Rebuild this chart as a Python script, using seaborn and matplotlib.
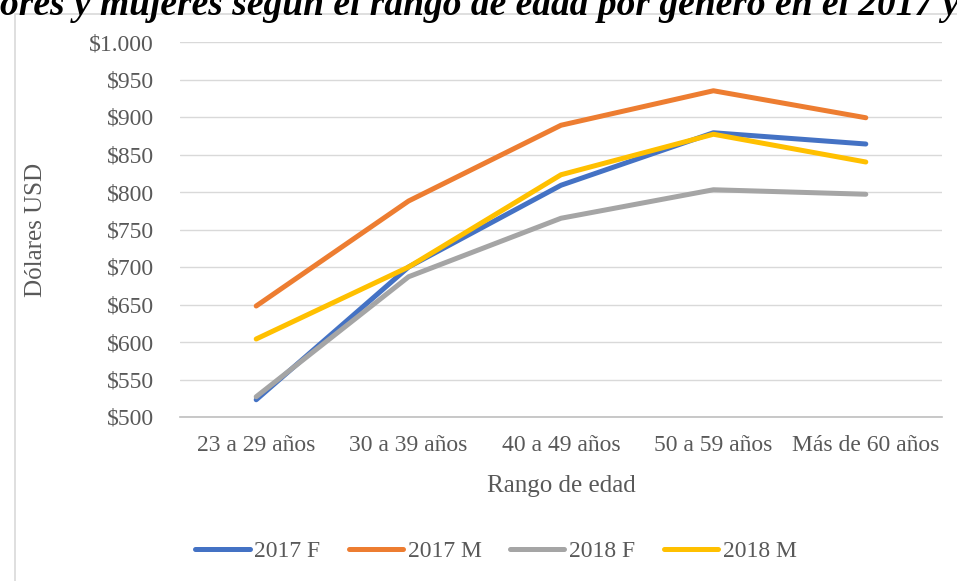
import matplotlib.pyplot as plt
import matplotlib.ticker as mticker
from matplotlib.patches import Rectangle
import pandas as pd
import seaborn as sns

# Data
rangos = ['23 a 29 años', '30 a 39 años', '40 a 49 años', '50 a 59 años', 'Más de 60 años']
f_2017 = [523, 700, 809, 879, 864]
m_2017 = [648, 788, 889, 935, 899]
f_2018 = [527, 687, 765, 803, 797]
m_2018 = [604, 700, 823, 877, 840]
series = ['2017 F', '2017 M', '2018 F', '2018 M']
colores = ['#4472C4', '#ED7D31', '#A5A5A5', '#FFC000']

df = pd.DataFrame({'Rango': rangos, '2017 F': f_2017, '2017 M': m_2017,
                   '2018 F': f_2018, '2018 M': m_2018})
df_long = df.melt(id_vars='Rango', var_name='Serie', value_name='USD')
df_long['x'] = df_long['Rango'].map({r: i for i, r in enumerate(rangos)})

sns.set_style('white')
plt.rcParams['font.family'] = ['Liberation Serif', 'DejaVu Serif']

fig = plt.figure(figsize=(9.57, 5.81), dpi=100)
W, H = 957, 581
ax = fig.add_axes([180 / W, 1 - 417 / H, (942 - 180) / W, (417 - 42) / H])

sns.lineplot(data=df_long, x='x', y='USD', hue='Serie', hue_order=series,
             palette=colores, linewidth=3.6, ax=ax, legend=False,
             solid_capstyle='round', solid_joinstyle='round')

ax.set_xlim(-0.5, len(rangos) - 0.5)
ax.set_ylim(500, 1000)
ax.set_yticks(range(500, 1001, 50))
ax.yaxis.set_major_formatter(mticker.FuncFormatter(
    lambda v, p: '$' + f'{int(v):,}'.replace(',', '.')))
ax.set_xticks(range(len(rangos)))
ax.set_xticklabels(rangos)
ax.grid(axis='y', color='#D9D9D9', linewidth=1)
ax.set_axisbelow(True)
for s in ['top', 'right', 'left']:
    ax.spines[s].set_visible(False)
ax.spines['bottom'].set_color('#BFBFBF')
ax.spines['bottom'].set_linewidth(1.2)
ax.tick_params(axis='both', length=0, labelsize=17, labelcolor='#595959')
ax.tick_params(axis='x', pad=13)
ax.tick_params(axis='y', pad=19)
ax.set_xlabel('')
ax.set_ylabel('')

fig.text(561 / W, 1 - 486 / H, 'Rango de edad', ha='center', va='center',
         fontsize=18, color='#595959')
fig.text(36 / W, 1 - 230 / H, 'Dólares USD', ha='center', va='center',
         rotation=90, fontsize=18, color='#595959')

# legend
handles = [plt.Line2D([], [], color=c, linewidth=3.6, solid_capstyle='round')
           for c in colores]
fig.legend(handles, series, loc='center', bbox_to_anchor=(496 / W, 1 - 551 / H),
           ncol=4, frameon=False, fontsize=17, labelcolor='#595959',
           handlelength=2.3, handletextpad=0.2, columnspacing=1.2)

# chart frame
fig.patches.append(Rectangle((15 / W, -0.1), 1.1, 1 - 14 / H + 0.1,
                             transform=fig.transFigure, fill=False,
                             edgecolor='#D9D9D9', linewidth=1.2))

# clipped title at the top of the image
fig.text(0.0, 1 - 15 / H, 'ores y mujeres según el rango de edad por género en el 2017 y',
         ha='left', va='baseline', fontsize=27, fontweight='bold',
         fontstyle='italic', color='black')

fig.savefig('out.png', dpi=100)
